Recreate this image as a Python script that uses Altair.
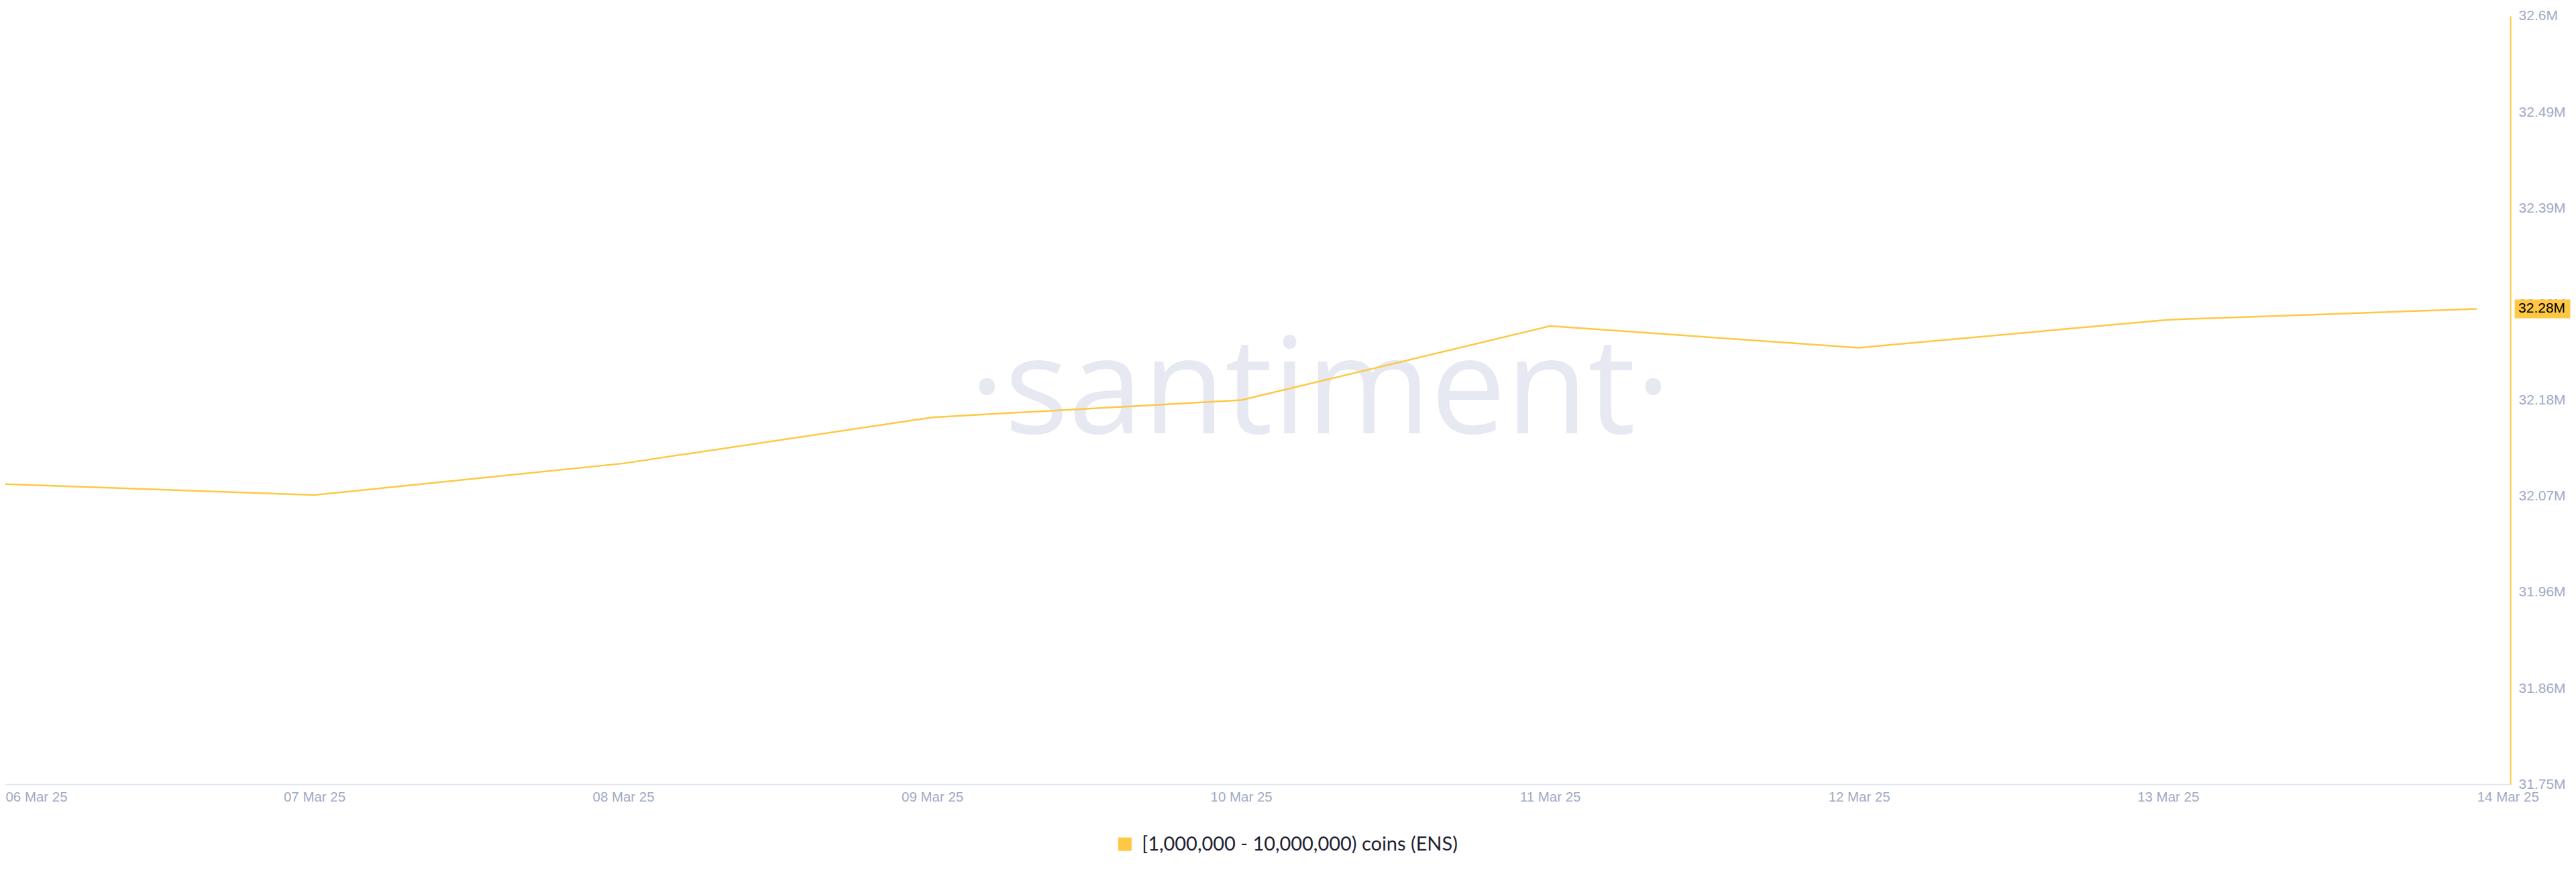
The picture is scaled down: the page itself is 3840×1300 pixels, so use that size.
import altair as alt
import pandas as pd

# ---- data ----
dates = ["2025-03-06", "2025-03-07", "2025-03-08", "2025-03-09", "2025-03-10",
         "2025-03-11", "2025-03-12", "2025-03-13", "2025-03-14"]
holdings = [32.082e6, 32.070e6, 32.105e6, 32.156e6, 32.175e6,
            32.257e6, 32.233e6, 32.264e6, 32.276e6]
series_name = "[1,000,000 - 10,000,000) coins (ENS)"
y_ticks = [31.75e6, 31.85625e6, 31.9625e6, 32.06875e6, 32.175e6,
           32.28125e6, 32.3875e6, 32.49375e6, 32.6e6]
watermark = ["·santiment·"]

LINE = "#FFC843"
LABEL = "#9FAAC4"
W, H = 3740, 1147

df = pd.DataFrame({"date": dates, "value": holdings, "series": series_name})
last_df = df.tail(1).copy()

x_scale = alt.Scale(type="utc",
                    domain=[alt.DateTime(year=2025, month=3, date=6, utc=True),
                            alt.DateTime(year=2025, month=3, date=14, hours=2, minutes=36, utc=True)])
y_scale = alt.Scale(domain=[y_ticks[0], y_ticks[-1]], nice=False, zero=False)

x_axis = alt.Axis(
    title=None, format="%d %b %y", tickCount=alt.TimeIntervalStep(interval="day", step=1),
    grid=False, ticks=False, domainColor="#E3E7F1", domainWidth=2,
    labelColor=LABEL, labelFont="Liberation Sans", labelFontSize=20.5, labelPadding=9,
    labelAlign={"condition": {"test": "datum.index == 0 || datum.index == 1", "value": "left"},
                "value": "center"},
)
y_axis = alt.Axis(
    title=None, orient="right", values=y_ticks, grid=False, ticks=False,
    domainColor=LINE, domainWidth=2,
    labelExpr="format(datum.value / 1e6 + 1e-9, '.2~f') + 'M'",
    labelColor=LABEL, labelFont="Liberation Sans", labelFontSize=21, labelPadding=12,
)

base = alt.Chart(df)

wm = alt.Chart(pd.DataFrame({"t": watermark})).mark_text(
    font="Open Sans", fontSize=200,
    fontWeight="normal", color="#E6E9F2",
    align="center", baseline="alphabetic",
).encode(text="t:N", x=alt.value(1963), y=alt.value(623))

line = base.mark_line(strokeWidth=2.5, clip=True).encode(
    x=alt.X("date:T", scale=x_scale, axis=x_axis),
    y=alt.Y("value:Q", scale=y_scale, axis=y_axis),
    color=alt.Color("series:N", scale=alt.Scale(domain=[series_name], range=[LINE]),
                    legend=alt.Legend(
                        title=None, orient="none", legendX=1657, legendY=1222,
                        symbolType="square", symbolSize=400, symbolFillColor=LINE,
                        symbolStrokeWidth=0, labelFont="Lato", labelFontSize=29,
                        labelColor="#1E2232", labelOffset=11, padding=0, labelLimit=0,
                    )),
)

badge = alt.Chart(last_df).mark_point(
    shape="M-1,-0.34L1,-0.34L1,0.34L-1,0.34Z", size=6889, filled=True,
    fill=LINE, stroke=None, opacity=1,
).encode(x=alt.value(W + 48), y=alt.Y("value:Q", scale=y_scale))

badge_text = alt.Chart(last_df).transform_calculate(
    lbl="format(datum.value / 1e6, '.2f') + 'M'"
).mark_text(
    align="left", baseline="middle", font="Liberation Sans", fontSize=21, color="#000000",
).encode(x=alt.value(W + 12), y=alt.Y("value:Q", scale=y_scale), text="lbl:N")

chart = alt.layer(wm, line, badge, badge_text).properties(
    width=W, height=H,
    padding={"left": 0, "top": 4, "right": 0, "bottom": 0},
    background="white",
).configure_view(stroke=None)

chart.save("out.html", embed_options={"renderer": "svg", "actions": False})
